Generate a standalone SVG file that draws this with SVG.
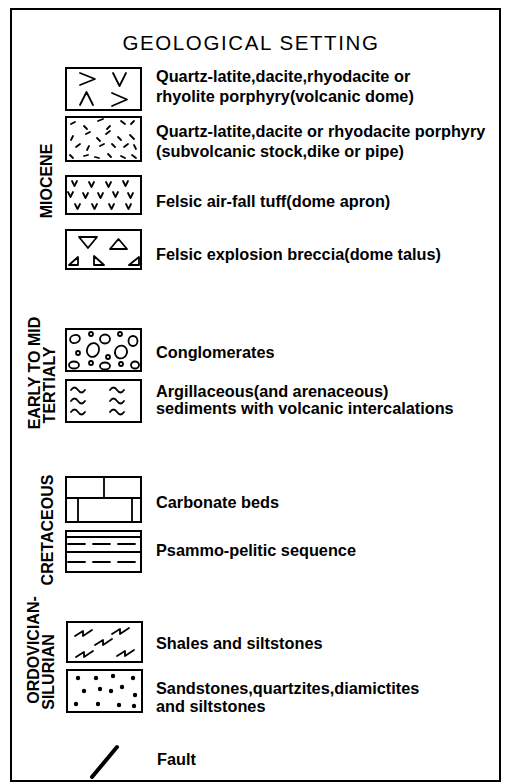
<svg xmlns="http://www.w3.org/2000/svg" width="508" height="784" viewBox="0 0 508 784">
<style>
.t{font-family:"Liberation Sans",Arial,sans-serif;font-weight:bold;font-size:16.3px;fill:#000}
.title{font-family:"Liberation Sans",Arial,sans-serif;font-size:20.5px;fill:#000;letter-spacing:1.6px}
.v{font-family:"Liberation Sans",Arial,sans-serif;font-weight:bold;font-size:16px;fill:#000}
.box{fill:#fff;stroke:#000;stroke-width:2}
.p{fill:none;stroke:#000;stroke-width:1.8;stroke-linecap:round;stroke-linejoin:round}
.d{fill:#000}
</style>
<rect x="0" y="0" width="508" height="784" fill="#fff"/>
<rect x="11" y="9" width="489" height="772" fill="none" stroke="#000" stroke-width="2"/>
<text class="title" x="251" y="50" text-anchor="middle">GEOLOGICAL SETTING</text>

<g id="age-labels">
<text class="v" transform="translate(52,181) rotate(-90)" text-anchor="middle">MIOCENE</text>
<text class="v" transform="translate(40,373) rotate(-90)" text-anchor="middle">EARLY TO MID</text>
<text class="v" transform="translate(55,385) rotate(-90)" text-anchor="middle">TERTIALY</text>
<text class="v" transform="translate(53,530) rotate(-90)" text-anchor="middle">CRETACEOUS</text>
<text class="v" transform="translate(39,650) rotate(-90)" text-anchor="middle">ORDOVICIAN-</text>
<text class="v" transform="translate(54,672) rotate(-90)" text-anchor="middle">SILURIAN</text>
</g>

<g id="volcanic-dome">
<rect class="box" x="66" y="68" width="75" height="42"/>
<path class="p" stroke-width="1.6" d="M80,73 L95,79 L80,85 M113,73 L119.5,86 L126,73 M80,105 L86.5,92 L93,105 M112,93 L127,99.5 L112,106"/>
<text class="t" x="156" y="82">Quartz-latite,dacite,rhyodacite or</text>
<text class="t" x="156" y="102">rhyolite porphyry(volcanic dome)</text>
</g>

<g id="subvolcanic-porphyry">
<rect class="box" x="66" y="117" width="75" height="44"/>
<path class="p" stroke-width="1.7" d="M71,124 l4,-2 M84,126 l3,3 M98,121 l5,-2 M110,126 l-3,3 M121,121 l4,3 M131,124 l3,-3 M73,136 l-2,4 M86,134 l4,-2 M97,138 l3,3 M106,134 l4,-3 M118,137 l3,3 M130,135 l4,4 M76,147 l4,-3 M89,146 l-2,4 M100,146 l4,-2 M112,144 l3,3 M124,147 l4,-3 M134,145 l2,4 M70,155 l3,3 M84,156 l4,-1 M95,157 l4,1 M108,154 l3,3 M121,156 l4,2 M132,155 l4,3"/>
<text class="t" x="156" y="137">Quartz-latite,dacite or rhyodacite porphyry</text>
<text class="t" x="156" y="157">(subvolcanic stock,dike or pipe)</text>
</g>

<g id="air-fall-tuff">
<rect class="box" x="66" y="176" width="75" height="38"/>
<path class="p" stroke-width="2" d="M72,181 l2.5,5 l2.5,-5 M89,182 l2.5,5 l2.5,-5 M106,182 l2.5,5 l2.5,-5 M123,181 l2.5,5 l2.5,-5 M68,192 l2.5,5 l2.5,-5 M83,193 l2.5,5 l2.5,-5 M98,193 l2.5,5 l2.5,-5 M113,192 l2.5,5 l2.5,-5 M128,193 l2.5,5 l2.5,-5 M75,204 l2.5,5 l2.5,-5 M92,204 l2.5,5 l2.5,-5 M109,204 l2.5,5 l2.5,-5 M126,204 l2.5,5 l2.5,-5"/>
<text class="t" x="156" y="207">Felsic air-fall tuff(dome apron)</text>
</g>

<g id="explosion-breccia">
<rect class="box" x="66" y="230" width="75" height="39"/>
<path class="p" stroke-width="2" d="M79,237 L97,237 L88,248 Z M110,249 L127,249 L118.5,239 Z"/>
<path class="p" stroke-width="2.4" d="M69,265 L78,257 L78,265 Z M94,256 L94,265 L104,265 Z M129,265 L139,257 L139,265 Z"/>
<text class="t" x="156" y="260">Felsic explosion breccia(dome talus)</text>
</g>

<g id="conglomerates">
<rect class="box" x="66" y="329" width="75" height="42"/>
<g class="p" stroke-width="2.2">
<ellipse cx="75" cy="339" rx="5" ry="4" transform="rotate(-20 75 339)"/>
<circle cx="91" cy="334" r="2"/>
<ellipse cx="105" cy="339" rx="5" ry="4.5"/>
<circle cx="120" cy="334" r="2"/>
<ellipse cx="133" cy="341" rx="4.5" ry="5"/>
<ellipse cx="93" cy="350" rx="6" ry="7" transform="rotate(20 93 350)"/>
<ellipse cx="121" cy="352" rx="6" ry="6.5" transform="rotate(20 121 352)"/>
<circle cx="78" cy="353" r="2"/>
<circle cx="108" cy="357" r="2"/>
<ellipse cx="74" cy="365" rx="5" ry="3.5"/>
<circle cx="91" cy="363" r="2"/>
<ellipse cx="105" cy="366" rx="5" ry="3.5"/>
<circle cx="121" cy="364" r="2"/>
<ellipse cx="135" cy="365" rx="4" ry="3.5"/>
</g>
<text class="t" x="156" y="358">Conglomerates</text>
</g>

<g id="argillaceous">
<rect class="box" x="66" y="380" width="75" height="42"/>
<path class="p" stroke-width="1.8" d="M71,390 q3.5,-5 7,0 q3.5,5 7,0 M110,390 q3.5,-5 7,0 q3.5,5 7,0 M71,401 q3.5,-5 7,0 q3.5,5 7,0 M110,401 q3.5,-5 7,0 q3.5,5 7,0 M71,412 q3.5,-5 7,0 q3.5,5 7,0 M110,412 q3.5,-5 7,0 q3.5,5 7,0"/>
<text class="t" x="156" y="397">Argillaceous(and arenaceous)</text>
<text class="t" x="156" y="414">sediments with volcanic intercalations</text>
</g>

<g id="carbonate">
<rect class="box" x="66" y="477" width="75" height="45"/>
<path class="p" stroke-width="2" d="M66,498 L141,498 M104,477 L104,498 M78,498 L78,522 M132,498 L132,522"/>
<text class="t" x="156" y="508">Carbonate beds</text>
</g>

<g id="psammo-pelitic">
<rect class="box" x="66" y="531" width="75" height="41"/>
<path class="p" stroke-width="2" d="M66,537 L141,537 M66,552 L141,552"/>
<path class="p" stroke-width="2" stroke-dasharray="17,8" d="M68,544 L141,544 M68,562 L141,562"/>
<text class="t" x="156" y="556">Psammo-pelitic sequence</text>
</g>

<g id="shales">
<rect class="box" x="67" y="622" width="75" height="40"/>
<path class="p" stroke-width="2.4" d="M75,636 l8,-5 l0,5 l9,-6 M112,634 l8,-5 l0,5 l9,-6 M95,645 l8,-5 l0,5 l9,-6 M76,657 l8,-5 l0,5 l9,-6 M117,656 l8,-5 l0,5 l9,-6"/>
<text class="t" x="156" y="649">Shales and siltstones</text>
</g>

<g id="sandstones">
<rect class="box" x="67" y="670" width="75" height="42"/>
<g class="d">
<circle cx="78" cy="678" r="2.2"/><circle cx="96" cy="678" r="2.2"/><circle cx="113" cy="676" r="2.2"/><circle cx="133" cy="678" r="2.2"/>
<circle cx="84" cy="691" r="2.2"/><circle cx="100" cy="689" r="2.2"/><circle cx="111" cy="691" r="2.2"/><circle cx="122" cy="687" r="2.2"/><circle cx="135" cy="695" r="2.2"/>
<circle cx="76" cy="704" r="2.2"/><circle cx="98" cy="704" r="2.2"/><circle cx="119" cy="705" r="2.2"/><circle cx="134" cy="706" r="2.2"/>
</g>
<text class="t" x="156" y="694">Sandstones,quartzites,diamictites</text>
<text class="t" x="156" y="712">and siltstones</text>
</g>

<g id="fault">
<path d="M117,747 L92,777" stroke="#000" stroke-width="4" stroke-linecap="round"/>
<text class="t" x="157" y="765">Fault</text>
</g>
<g id="connectors"/>
</svg>
